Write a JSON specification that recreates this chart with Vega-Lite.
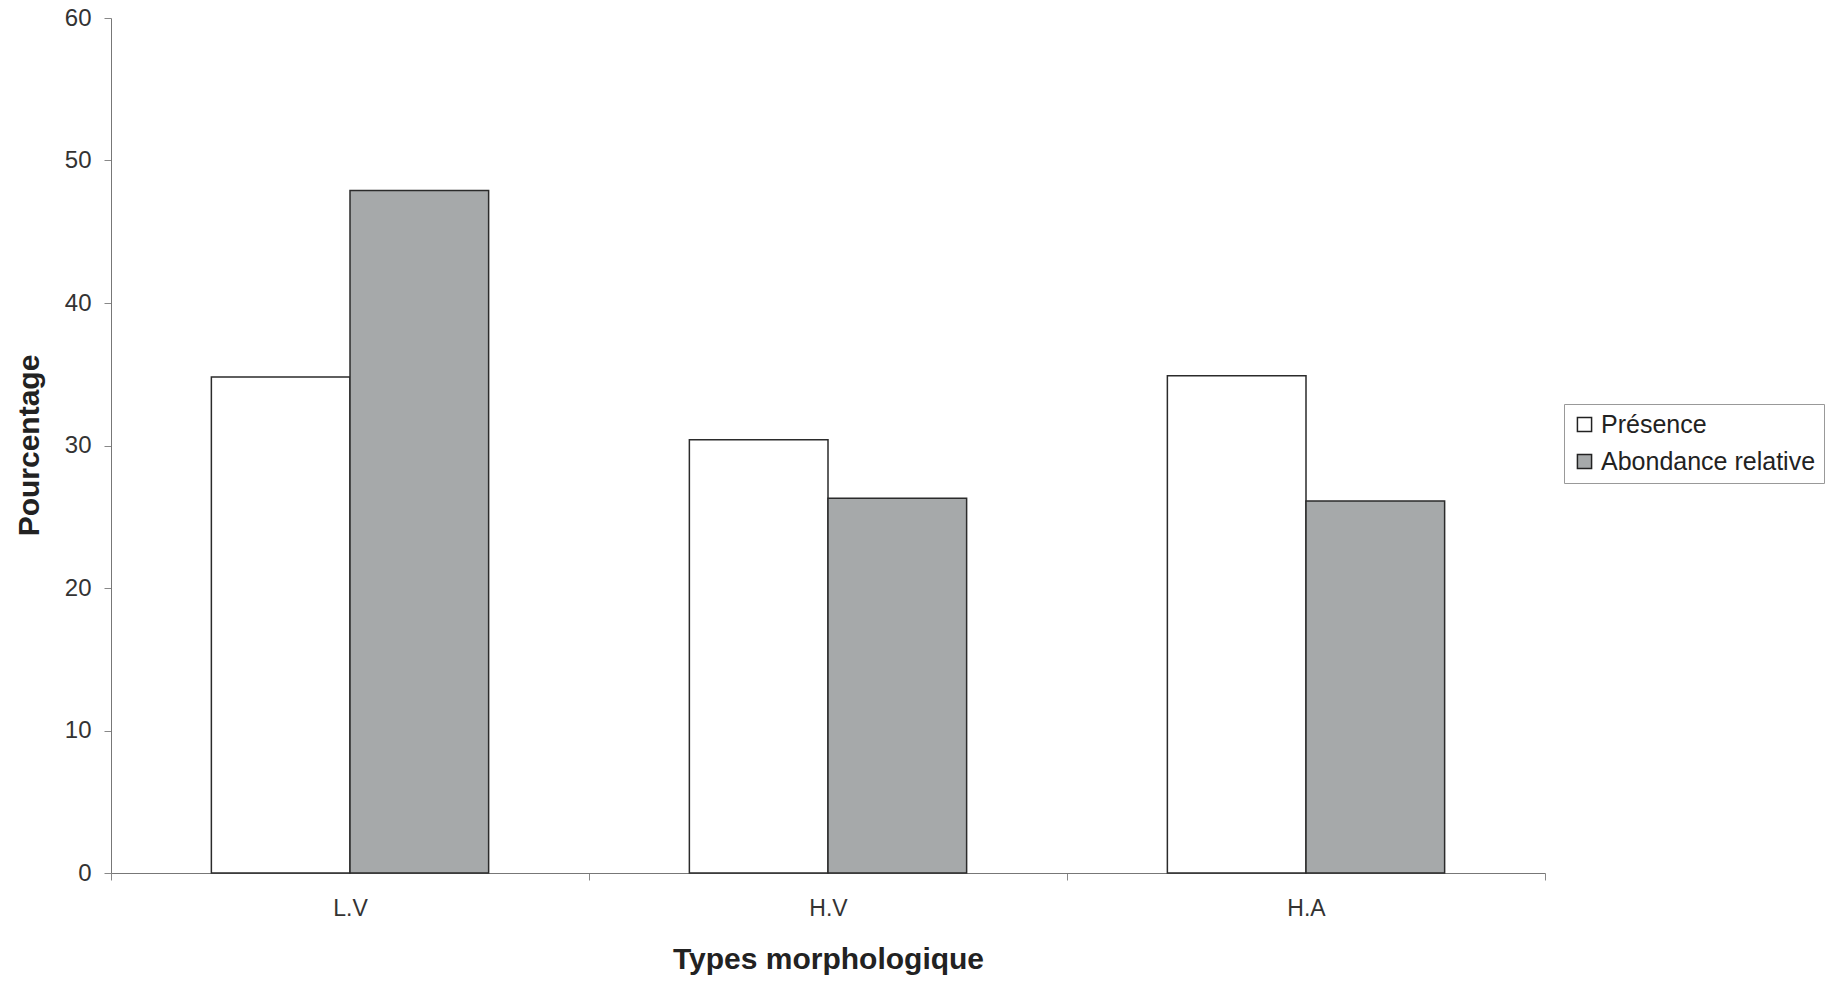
{
  "$schema": "https://vega.github.io/schema/vega-lite/v6.json",
  "width": 1434,
  "height": 855,
  "autosize": "none",
  "padding": {"left": 111, "top": 18, "right": 300, "bottom": 108},
  "background": "white",
  "data": {
    "values": [
      {"type": "L.V", "serie": "Présence", "value": 34.8},
      {"type": "L.V", "serie": "Abondance relative", "value": 47.9},
      {"type": "H.V", "serie": "Présence", "value": 30.4},
      {"type": "H.V", "serie": "Abondance relative", "value": 26.3},
      {"type": "H.A", "serie": "Présence", "value": 34.9},
      {"type": "H.A", "serie": "Abondance relative", "value": 26.1}
    ]
  },
  "mark": {"type": "bar", "stroke": "#2b2b2b", "strokeWidth": 1.5},
  "encoding": {
    "x": {
      "field": "type",
      "type": "nominal",
      "sort": ["L.V", "H.V", "H.A"],
      "scale": {"paddingInner": 0, "paddingOuter": 0},
      "axis": {
        "title": "Types morphologique",
        "labelAngle": 0,
        "labelFont": "Liberation Sans Narrow, Arial Narrow, Liberation Sans",
        "labelFontSize": 23,
        "labelColor": "#333333",
        "labelPadding": 17,
        "tickBand": "extent",
        "tickSize": 7,
        "tickColor": "#888888",
        "domainColor": "#777777",
        "titleFont": "Liberation Sans Narrow, Arial Narrow, Liberation Sans",
        "titleFontSize": 30,
        "titleFontWeight": "bold",
        "titleColor": "#222222",
        "titleX": 717,
        "titleY": 86,
        "titleBaseline": "middle",
        "titleAlign": "center"
      }
    },
    "xOffset": {
      "field": "serie",
      "sort": ["Présence", "Abondance relative"],
      "scale": {"paddingInner": 0, "paddingOuter": 0.724}
    },
    "y": {
      "field": "value",
      "type": "quantitative",
      "scale": {"domain": [0, 60], "nice": false},
      "axis": {
        "title": "Pourcentage",
        "values": [0, 10, 20, 30, 40, 50, 60],
        "grid": false,
        "labelFont": "Liberation Sans",
        "labelFontSize": 24,
        "labelColor": "#333333",
        "labelPadding": 13,
        "tickSize": 7,
        "tickColor": "#888888",
        "domainColor": "#777777",
        "titleFont": "Liberation Sans Narrow, Arial Narrow, Liberation Sans",
        "titleFontSize": 30,
        "titleFontWeight": "bold",
        "titleColor": "#222222",
        "titleX": -82,
        "titleY": 427,
        "titleAngle": 270,
        "titleBaseline": "middle",
        "titleAlign": "center"
      }
    },
    "color": {
      "field": "serie",
      "type": "nominal",
      "sort": ["Présence", "Abondance relative"],
      "scale": {"domain": ["Présence", "Abondance relative"], "range": ["#ffffff", "#a6a9aa"]},
      "legend": {
        "title": null,
        "orient": "none",
        "legendX": 1453,
        "legendY": 386,
        "strokeColor": "#999999",
        "padding": 8,
        "symbolType": "square",
        "symbolSize": 200,
        "symbolStrokeColor": "#222222",
        "symbolStrokeWidth": 1.5,
        "labelFont": "Liberation Sans",
        "labelFontSize": 25,
        "labelColor": "#222222",
        "labelOffset": 4,
        "rowPadding": 11,
        "labelLimit": 400
      }
    }
  },
  "config": {"view": {"stroke": null}}
}
